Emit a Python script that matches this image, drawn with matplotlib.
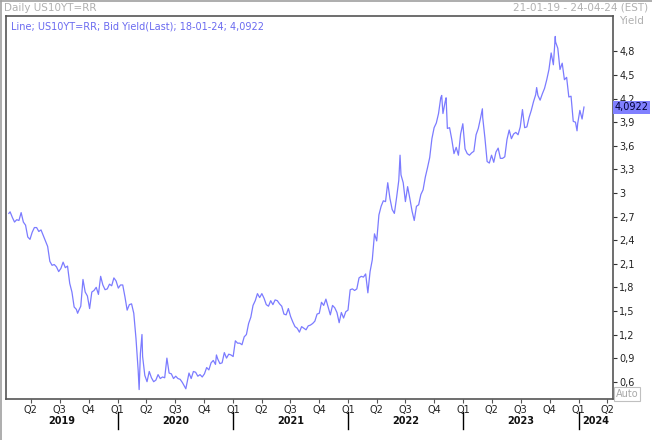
import matplotlib
matplotlib.use("Agg")
import matplotlib.pyplot as plt
import matplotlib.dates as mdates
import matplotlib.transforms as mtransforms
from matplotlib.lines import Line2D
import numpy as np
import pandas as pd

# weekly (Friday) closes, one row per month
first_friday = "2019-01-25"
weekly_yield = [
    # 2019
    2.76,
    2.69, 2.63, 2.66, 2.65,
    2.75, 2.63, 2.59, 2.44, 2.41,
    2.50, 2.56, 2.56, 2.51,
    2.53, 2.46, 2.39, 2.32, 2.13,
    2.08, 2.09, 2.06, 2.00,
    2.04, 2.12, 2.05, 2.07,
    1.85, 1.74, 1.55, 1.52, 1.50,
    1.56, 1.90, 1.74, 1.69,
    1.53, 1.74, 1.76, 1.80,
    1.71, 1.94, 1.83, 1.77, 1.78,
    1.84, 1.82, 1.92, 1.88,
    # 2020
    1.79, 1.83, 1.83, 1.68, 1.51,
    1.58, 1.59, 1.47, 1.15,
    0.74, 0.96, 0.92, 0.68,
    0.60, 0.73, 0.65, 0.60,
    0.62, 0.69, 0.64, 0.66, 0.65,
    0.90, 0.71, 0.70, 0.64,
    0.67, 0.64, 0.63, 0.59, 0.54,
    0.57, 0.71, 0.64, 0.73,
    0.72, 0.67, 0.69, 0.66,
    0.70, 0.78, 0.75, 0.84, 0.87,
    0.82, 0.89, 0.83, 0.84,
    0.97, 0.90, 0.95, 0.94,
    # 2021
    0.92, 1.12, 1.09, 1.09, 1.07,
    1.17, 1.20, 1.34, 1.42,
    1.57, 1.63, 1.72, 1.67,
    1.72, 1.66, 1.58, 1.56, 1.63,
    1.58, 1.64, 1.63, 1.59,
    1.56, 1.46, 1.45, 1.53,
    1.43, 1.36, 1.30, 1.28, 1.23,
    1.30, 1.28, 1.26, 1.31,
    1.32, 1.34, 1.37, 1.46,
    1.47, 1.61, 1.57, 1.65, 1.55,
    1.45, 1.57, 1.54, 1.48,
    1.35, 1.48, 1.41, 1.49, 1.51,
    # 2022
    1.77, 1.78, 1.76, 1.78,
    1.92, 1.94, 1.93, 1.97,
    1.73, 2.00, 2.15, 2.48,
    2.39, 2.72, 2.83, 2.90, 2.89,
    3.13, 2.93, 2.79, 2.74,
    2.94, 3.16, 3.23, 3.13,
    2.89, 3.08, 2.93, 2.77, 2.65,
    2.83, 2.85, 2.98, 3.04,
    3.20, 3.32, 3.45, 3.69, 3.83,
    3.89, 4.01, 4.21, 4.01,
    4.16, 3.82, 3.83, 3.68,
    3.50, 3.58, 3.48, 3.75, 3.88,
    # 2023
    3.56, 3.50, 3.48, 3.51,
    3.53, 3.74, 3.82, 3.95,
    3.96, 3.70, 3.40, 3.38, 3.48,
    3.39, 3.52, 3.57, 3.44,
    3.44, 3.46, 3.68, 3.80,
    3.69, 3.75, 3.77, 3.74, 3.84,
    4.06, 3.83, 3.84, 3.96,
    4.05, 4.16, 4.25, 4.24,
    4.18, 4.26, 4.33, 4.44, 4.57,
    4.78, 4.63, 4.92, 4.84,
    4.57, 4.65, 4.44, 4.47,
    4.22, 4.23, 3.91, 3.90, 3.88,
    # 2024
    4.05, 3.94,
]

# daily spikes between the weekly points
spike_dates = ["2019-01-21", "2019-08-27", "2020-03-09", "2020-03-18", "2020-08-04",
               "2020-11-09", "2022-06-14", "2022-10-24", "2022-11-07", "2023-03-02",
               "2023-08-21", "2023-10-19", "2023-12-27", "2024-01-18"]
spike_yield = [2.74, 1.47, 0.50, 1.20, 0.51,
               0.94, 3.48, 4.24, 4.21, 4.07,
               4.34, 4.99, 3.79, 4.0922]

last_value = 4.0922
y_ticks = np.round(np.arange(0.6, 4.81, 0.3), 1)
quarter_starts = pd.date_range("2019-04-01", "2024-04-01", freq="QS")
years = [2019, 2020, 2021, 2022, 2023, 2024]

x_start = pd.Timestamp("2019-01-12")
x_end = pd.Timestamp("2024-04-19")

weekly = pd.Series(weekly_yield, index=pd.date_range(first_friday, periods=len(weekly_yield), freq="W-FRI"))
spikes = pd.Series(spike_yield, index=pd.to_datetime(spike_dates))
series = pd.concat([weekly, spikes]).sort_index()

line_color = "#7b7bff"
grey_text = "#b0b0b0"

plt.rcParams["font.family"] = "DejaVu Sans"
fig = plt.figure(figsize=(6.52, 4.40), dpi=100)
W, H = 652, 440
ax = fig.add_axes([6 / W, 1 - 399 / H, 607 / W, 383 / H])

ax.plot(series.index, series.values, color=line_color, lw=0.9)

ax.set_xlim(x_start, x_end)
ax.set_ylim(0.38, 5.25)

for sp in ax.spines.values():
    sp.set_color("#555555")
    sp.set_linewidth(1.2)

# right hand yield axis
ax.yaxis.tick_right()
ax.set_yticks(y_ticks)
ax.set_yticklabels([f"{v:g}".replace(".", ",") for v in y_ticks])
ax.tick_params(axis="y", direction="out", length=3, width=0.8, color="#333333",
               labelsize=7, pad=1.5, labelcolor="#222222")

# quarters along the bottom
ax.set_xticks(quarter_starts)
ax.set_xticklabels([f"Q{d.quarter}" for d in quarter_starts])
ax.tick_params(axis="x", direction="out", length=3, width=0.8, color="#555555",
               labelsize=7, pad=1.5, labelcolor="#222222")

trans = mtransforms.blended_transform_factory(ax.transData, ax.transAxes)
for yr in years:
    y0 = max(pd.Timestamp(f"{yr}-01-01"), x_start)
    y1 = min(pd.Timestamp(f"{yr + 1}-01-01"), x_end)
    mid = y0 + (y1 - y0) / 2
    ax.text(mdates.date2num(mid), -0.057, str(yr), transform=trans, ha="center",
            va="center", fontsize=7, fontweight="bold", color="#111111")
    if pd.Timestamp(f"{yr}-01-01") > x_start:
        xn = mdates.date2num(pd.Timestamp(f"{yr}-01-01"))
        ax.add_line(Line2D([xn, xn], [-0.034, -0.078], transform=trans, color="black",
                           lw=1.0, clip_on=False))

# labels and boxes
ax.text(0.008, 0.985, "Line; US10YT=RR; Bid Yield(Last); 18-01-24; 4,0922",
        transform=ax.transAxes, ha="left", va="top", fontsize=7, color="#6a6af0")

ytrans = mtransforms.blended_transform_factory(ax.transAxes, ax.transData)
ax.text(1.003, last_value, "4,0922", transform=ytrans, ha="left", va="center",
        fontsize=7, color="#000033", zorder=5,
        bbox=dict(boxstyle="square,pad=0.15", fc="#8080ff", ec="none"))

fig.text(4 / W, 1 - 8 / H, "Daily US10YT=RR", ha="left", va="center",
         fontsize=7.5, color=grey_text)
fig.text(648 / W, 1 - 8 / H, "21-01-19 - 24-04-24 (EST)", ha="right", va="center",
         fontsize=7.5, color=grey_text)
fig.text(619 / W, 1 - 21 / H, "Yield", ha="left", va="center", fontsize=7.5, color=grey_text)
fig.text(627 / W, 1 - 394 / H, "Auto", ha="center", va="center", fontsize=7,
         color="#a8a8a8",
         bbox=dict(boxstyle="square,pad=0.2", fc="white", ec="#c0c0c0", lw=0.8))

# outer window border (left and top)
fig.add_artist(Line2D([1 / W, 1 / W], [0, 1 - 1 / H], transform=fig.transFigure,
                      color="#a0a0a0", lw=1.2))
fig.add_artist(Line2D([1 / W, 1], [1 - 1 / H, 1 - 1 / H], transform=fig.transFigure,
                      color="#a0a0a0", lw=1.2))

fig.savefig("out.png", dpi=100)
